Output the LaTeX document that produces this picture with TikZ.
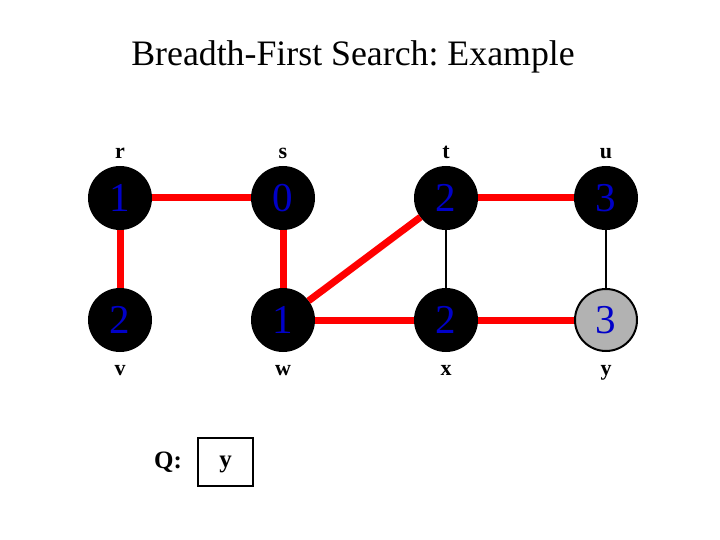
\documentclass[tikz,border=0pt]{standalone}
\usepackage{fontspec}
\setmainfont{Liberation Serif}
\begin{document}
\frenchspacing
\begin{tikzpicture}[x=1pt,y=-1pt,
  vtx/.style={circle,draw=black,line width=2pt,fill=black,minimum size=62pt,inner sep=0pt,text=numblue,font=\fontsize{41}{41}\selectfont},
  gvtx/.style={vtx,fill=gray!60},
  lbl/.style={anchor=base,font=\bfseries\fontsize{22}{22}\selectfont},
  tree/.style={red,line width=7pt},
  nontree/.style={black,line width=2.2pt}]
\definecolor{numblue}{RGB}{0,0,200}
\useasboundingbox (0,0) rectangle (720,540);
\node (title) at (353,57) {\fontsize{35.8}{36}\selectfont Breadth-First Search: Example};
\node[vtx] (r) at (120,198) {1};
\node[vtx] (s) at (283,198) {0};
\node[vtx] (t) at (446,198) {2};
\node[vtx] (u) at (606,198) {3};
\node[vtx] (v) at (120,320) {2};
\node[vtx] (w) at (283,320) {1};
\node[vtx] (x) at (446,320) {2};
\node[gvtx] (y) at (606,320) {3};
\node[lbl] (lr) at (120,159) {r};
\node[lbl] (ls) at (283,159) {s};
\node[lbl] (lt) at (446,159) {t};
\node[lbl] (lu) at (606,159) {u};
\node[lbl] (lv) at (120,375) {v};
\node[lbl] (lw) at (283,375) {w};
\node[lbl] (lx) at (446,375) {x};
\node[lbl] (ly) at (606,375) {y};
\draw[tree] (r) -- (s);
\draw[tree] (r) -- (v);
\draw[tree] (s) -- (w);
\draw[tree] (w) -- (t);
\draw[tree] (t) -- (u);
\draw[tree] (w) -- (x);
\draw[tree] (x) -- (y);
\draw[nontree] (t) -- (x);
\draw[nontree] (u) -- (y);
\node[font=\bfseries\fontsize{25}{25}\selectfont] (q) at (168,462) {Q:};
\node[draw=black,line width=2.5pt,minimum width=55pt,minimum height=48pt,text height=14pt,text depth=4pt,font=\bfseries\fontsize{25}{25}\selectfont] (qbox) at (225.5,462) {y};
\end{tikzpicture}
\end{document}
